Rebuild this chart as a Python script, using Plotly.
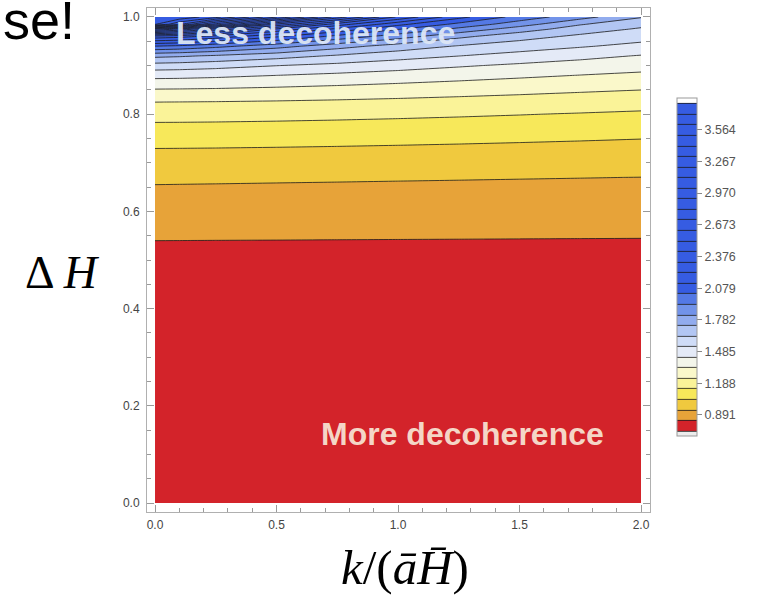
import plotly.graph_objects as go

# ---- data ----
k_vals = [0.0, 0.1, 0.25, 0.5, 0.75, 1.0, 1.25, 1.5, 1.75, 2.0]
dH_vals = [0.0, 0.3, 0.5, 0.545, 0.6, 0.67, 0.75, 0.8, 0.825, 0.85,
           0.88, 0.9, 0.92, 0.94, 0.96, 0.975, 0.985, 1.0]

z_rows = [
    [0.752, 0.752, 0.752, 0.752, 0.753, 0.753, 0.753, 0.754, 0.754, 0.754],
    [0.785, 0.785, 0.785, 0.785, 0.785, 0.786, 0.786, 0.786, 0.786, 0.786],
    [0.815, 0.815, 0.814, 0.814, 0.813, 0.8125, 0.812, 0.811, 0.8105, 0.810],
    [0.845, 0.8448, 0.8446, 0.8442, 0.8438, 0.8434, 0.843, 0.8426, 0.8422, 0.8418],
    [0.891, 0.8907, 0.8903, 0.8895, 0.8888, 0.888, 0.8873, 0.8865, 0.8858, 0.885],
    [0.954, 0.9533, 0.9523, 0.9505, 0.9488, 0.947, 0.9453, 0.9435, 0.9418, 0.940],
    [1.069, 1.0687, 1.0678, 1.0655, 1.0626, 1.0591, 1.0552, 1.0508, 1.0461, 1.041],
    [1.174, 1.1735, 1.1718, 1.1678, 1.1625, 1.1563, 1.1493, 1.1416, 1.1331, 1.124],
    [1.238, 1.2367, 1.2347, 1.2297, 1.2232, 1.2156, 1.2068, 1.1977, 1.1876, 1.1771],
    [1.3292, 1.3277, 1.3239, 1.3141, 1.3027, 1.2899, 1.2766, 1.2635, 1.2502, 1.238],
    [1.4668, 1.464, 1.4555, 1.436, 1.4157, 1.3946, 1.3738, 1.3537, 1.3348, 1.3178],
    [1.5923, 1.5864, 1.5698, 1.5359, 1.5083, 1.4777, 1.4459, 1.4186, 1.3952, 1.3733],
    [1.7573, 1.7461, 1.7206, 1.6744, 1.6216, 1.5754, 1.5359, 1.4995, 1.4633, 1.4298],
    [2.030, 2.0116, 1.963, 1.8731, 1.7731, 1.6901, 1.6263, 1.5816, 1.5443, 1.5068],
    [2.386, 2.3621, 2.2896, 2.1435, 2.0007, 1.8781, 1.755, 1.6725, 1.614, 1.5747],
    [3.020, 2.8958, 2.7045, 2.4093, 2.1996, 2.0365, 1.9046, 1.7809, 1.6833, 1.6211],
    [3.720, 3.531, 3.1825, 2.7078, 2.376, 2.1562, 2.0001, 1.8757, 1.740, 1.6632],
    [3.800, 3.790, 3.650, 3.220, 2.780, 2.410, 2.160, 1.990, 1.870, 1.740],
]

level_start = 0.7425
level_step = 0.099
level_end = 3.8115

band_colors = (
    ["rgb(236,236,236)",
     "rgb(211,35,42)", "rgb(231,163,57)", "rgb(240,201,62)", "rgb(247,232,90)",
     "rgb(250,243,152)", "rgb(250,248,202)", "rgb(243,245,234)", "rgb(228,234,247)",
     "rgb(207,220,247)", "rgb(178,198,243)", "rgb(146,172,238)", "rgb(114,147,233)",
     "rgb(84,121,229)"]
    + ["rgb(54,92,226)"] * 18
    + ["rgb(255,255,255)"]
)

cbar_ticks = [0.891, 1.188, 1.485, 1.782, 2.079, 2.376, 2.673, 2.970, 3.267, 3.564]
x_ticks = [0.0, 0.5, 1.0, 1.5, 2.0]
y_ticks = [0.0, 0.2, 0.4, 0.6, 0.8, 1.0]

# ---- figure ----
W, H = 759, 600
L, R, T, B = 147, 109, 8, 88
pw, ph = W - L - R, H - T - B


def px_x(p):
    return (p - L) / pw


def px_y(p):
    return (H - B - p) / ph


n_bands = len(band_colors) - 1
colorscale = [[j / n_bands, c] for j, c in enumerate(band_colors)]

fig = go.Figure()
fig.add_trace(go.Contour(
    x=k_vals, y=dH_vals, z=z_rows,
    autocontour=False,
    contours=dict(start=level_start, end=level_end, size=level_step,
                  coloring="fill", showlines=True),
    line=dict(color="#1c1c1c", width=0.8, smoothing=0),
    colorscale=colorscale,
    hoverinfo="skip",
    colorbar=dict(
        x=px_x(677), xanchor="left", xpad=0,
        y=px_y(267), yanchor="middle", ypad=0,
        len=338 / ph, lenmode="fraction", thickness=20,
        outlinewidth=1, outlinecolor="#999999",
        tickvals=cbar_ticks, ticktext=[f"{v:.3f}" for v in cbar_ticks],
        ticks="outside", ticklen=5, tickcolor="#888888",
        tickfont=dict(family="Liberation Sans", size=12.5, color="#555555"),
    ),
))

axis_common = dict(
    ticks="inside", ticklen=7, tickcolor="#9a9a9a", tickwidth=1,
    showline=True, linecolor="#b0b0b0", linewidth=1, mirror="allticks",
    showgrid=False, zeroline=False,
    tickfont=dict(family="Liberation Sans", size=12, color="#444444"),
)
fig.update_xaxes(range=[-0.033, 2.037], tickvals=x_ticks,
                 ticktext=[f"{v:.1f}" for v in x_ticks],
                 ticklabelstandoff=2,
                 minor=dict(ticks="inside", ticklen=4, dtick=0.1, tick0=0,
                            tickcolor="#9a9a9a", showgrid=False),
                 **axis_common)
fig.update_yaxes(range=[-0.0185, 1.0185], tickvals=y_ticks,
                 ticktext=[f"{v:.1f}" for v in y_ticks],
                 ticklabelstandoff=4,
                 minor=dict(ticks="inside", ticklen=4, dtick=0.05, tick0=0,
                            tickcolor="#9a9a9a", showgrid=False),
                 **axis_common)

annotations = [
    dict(text="<b>Less decoherence</b>", x=px_x(315), y=px_y(33),
         font=dict(family="Liberation Sans", size=32, color="rgba(222,232,246,0.95)")),
    dict(text="<b>More decoherence</b>", x=px_x(462), y=px_y(434),
         font=dict(family="Liberation Sans", size=32, color="rgba(247,226,210,0.95)")),
    dict(text="Δ\u2009<i>H</i>", x=px_x(62), y=px_y(272),
         font=dict(family="Liberation Serif", size=46, color="black")),
    dict(text="<i>k</i>/(<i>ā</i><i>H̄</i>)", x=px_x(405), y=px_y(567),
         font=dict(family="Liberation Serif", size=49, color="black")),
    dict(text="se!", x=px_x(1), y=px_y(20), xanchor="left",
         font=dict(family="Liberation Sans", size=54, color="black")),
]
for a in annotations:
    a.setdefault("xanchor", "center")
    a.update(xref="paper", yref="paper", yanchor="middle", showarrow=False)
fig.update_layout(
    width=W, height=H, margin=dict(l=L, r=R, t=T, b=B, pad=0),
    paper_bgcolor="white", plot_bgcolor="white",
    annotations=annotations, showlegend=False,
)

fig.write_html("out.html", config={"displayModeBar": False},
               post_script="document.body.style.margin='0px';document.body.style.padding='0px';")
